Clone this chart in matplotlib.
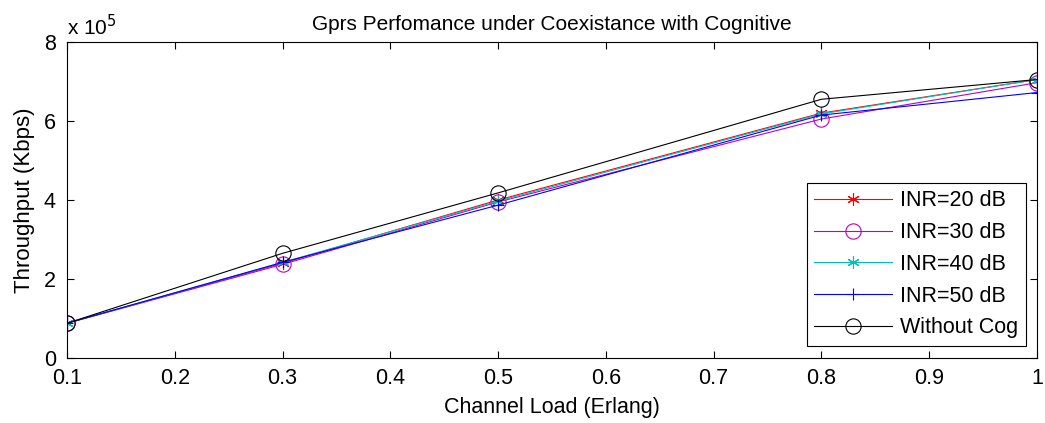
import matplotlib
matplotlib.use("Agg")
import matplotlib.pyplot as plt
from matplotlib.ticker import FuncFormatter

plt.rcParams['font.family'] = ['Liberation Sans', 'DejaVu Sans']

# channel load values
load = [0.1, 0.3, 0.5, 0.8, 1.0]

# throughput (Kbps)
inr20 = [0.88e5, 2.40e5, 4.00e5, 6.20e5, 7.05e5]
inr30 = [0.88e5, 2.37e5, 3.95e5, 6.05e5, 6.97e5]
inr40 = [0.88e5, 2.42e5, 3.97e5, 6.18e5, 7.05e5]
inr50 = [0.88e5, 2.42e5, 3.87e5, 6.15e5, 6.72e5]
no_cog = [0.88e5, 2.65e5, 4.18e5, 6.55e5, 7.05e5]

asterisk = (6, 2, 0)
series = [
    ("INR=20 dB", inr20, "r", asterisk),
    ("INR=30 dB", inr30, "m", "o"),
    ("INR=40 dB", inr40, "c", asterisk),
    ("INR=50 dB", inr50, "b", "+"),
    ("Without Cog", no_cog, "k", "o"),
]

fig = plt.figure(figsize=(10.45, 4.23), dpi=100)
ax = fig.add_axes([0.0641, 0.1537, 0.9282, 0.747])

for label, vals, col, mk in series:
    ax.plot(load, vals, color=col, marker=mk, markersize=11 if mk == "o" else 9,
            markerfacecolor="none", markeredgewidth=0.8, linewidth=0.8, label=label)

ax.set_xlim(0.1, 1.0)
ax.set_ylim(0, 8e5)
ax.set_xticks([0.1, 0.2, 0.3, 0.4, 0.5, 0.6, 0.7, 0.8, 0.9, 1.0])
ax.set_xticklabels(["0.1", "0.2", "0.3", "0.4", "0.5", "0.6", "0.7", "0.8", "0.9", "1"])
ax.set_yticks([0, 2e5, 4e5, 6e5, 8e5])
ax.yaxis.set_major_formatter(FuncFormatter(lambda v, p: "%g" % (v / 1e5)))
ax.tick_params(direction="in", top=True, right=True, labelsize=15.5, length=5, width=0.8)
ax.tick_params(axis="x", pad=7)
ax.tick_params(axis="y", pad=8)
for s in ax.spines.values():
    s.set_linewidth(0.8)

ax.text(0.0, 1.008, r"x 10$^5$", transform=ax.transAxes, fontsize=15, ha="left", va="bottom")
ax.set_title("Gprs Perfomance under Coexistance with Cognitive", fontsize=15, pad=9)
ax.set_xlabel("Channel Load (Erlang)", fontsize=15.5, labelpad=6)
ax.set_ylabel("Throughput (Kbps)", fontsize=16, labelpad=6)

leg = ax.legend(loc="lower right", fontsize=15.5, fancybox=False, edgecolor="k",
                framealpha=1, handlelength=3.6, borderpad=0.35, labelspacing=0.5,
                handletextpad=0.4, borderaxespad=0.0,
                bbox_to_anchor=(0.9887, 0.038))
leg.get_frame().set_linewidth(0.8)

fig.savefig("out.png", dpi=100)
